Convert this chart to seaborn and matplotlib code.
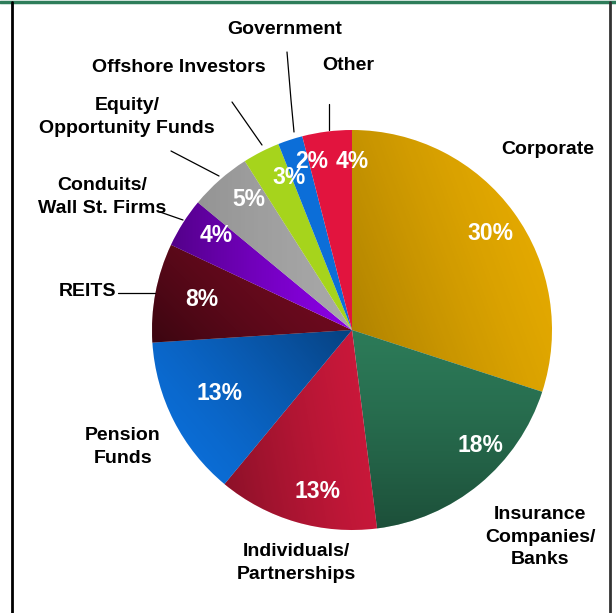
import matplotlib
matplotlib.use("Agg")
import matplotlib.pyplot as plt
import seaborn as sns
import numpy as np

sns.set_theme(style="white")
plt.rcParams["font.family"] = ["Liberation Sans", "DejaVu Sans"]

# Investor mix, clockwise from 12 o'clock
categories = ["Corporate", "Insurance\nCompanies/\nBanks", "Individuals/\nPartnerships",
              "Pension\nFunds", "REITS", "Conduits/\nWall St. Firms",
              "Equity/\nOpportunity Funds", "Offshore Investors", "Government", "Other"]
shares = [30, 18, 13, 13, 8, 4, 5, 3, 2, 4]
colors = ["#E2A800", "#2C7A58", "#C8183A", "#0B6CD4", "#6C0A1E",
          "#8A00E4", "#A8A8A8", "#A6D41C", "#0C6ED8", "#E2143E"]

# shading per slice: direction (degrees, screen frame) toward the dark side, and depth
shade_dir = [200, 270, 190, 40, 225, 180, 180, 0, 0, 0]
shade_amt = [0.22, 0.35, 0.30, 0.40, 0.45, 0.40, 0.12, 0.0, 0.0, 0.0]

W, H = 616, 613
fig = plt.figure(figsize=(W / 100, H / 100), dpi=100)
ax = fig.add_axes([0, 0, 1, 1])

def py(y):
    # pixel row (from top) to axis y
    return H - y

center = (352, py(330))
radius = 200

wedges, _ = ax.pie(shares, colors=colors, startangle=90, counterclock=False,
                   center=center, radius=radius, frame=True,
                   wedgeprops=dict(linewidth=0))

# soft directional shading clipped to each slice
gx, gy = np.meshgrid(np.arange(W) + 0.5, np.arange(H) + 0.5)
for w, ang, amt in zip(wedges, shade_dir, shade_amt):
    if amt <= 0:
        continue
    d = np.array([np.cos(np.radians(ang)), np.sin(np.radians(ang))])
    verts = w.get_path().vertices
    proj_v = verts @ d
    lo, hi = proj_v.min(), proj_v.max()
    t = np.clip((gx * d[0] + gy * d[1] - lo) / (hi - lo), 0, 1)
    rgba = np.zeros((H, W, 4))
    rgba[..., 3] = amt * t ** 1.3
    im = ax.imshow(rgba, extent=(0, W, 0, H), origin="lower", zorder=1.5,
                   interpolation="bilinear")
    im.set_clip_path(w)

ax.set_xlim(0, W)
ax.set_ylim(0, H)
ax.set_aspect("equal")
ax.axis("off")

# percentage labels inside the slices
pct_pos = [(490, 233), (480, 446), (318, 492), (220, 393), (202, 300),
           (216, 236), (249, 199), (289, 178), (312, 161), (352, 161)]
for v, (x, y) in zip(shares, pct_pos):
    ax.text(x, py(y), f"{v}%", color="white", fontsize=16.5, fontweight="bold",
            ha="center", va="center", zorder=4)

# category labels around the pie
label_pos = [(548, 150), (540, 537), (296, 563), (123, 447), (87, 291),
             (102, 197), (127, 117), (179, 67), (285, 30), (348, 66)]
for name, (x, y) in zip(categories, label_pos):
    ax.text(x, py(y), name, color="black", fontsize=14, fontweight="bold",
            ha="center", va="center", linespacing=1.4, zorder=4)

# leader lines for the crowded small slices
leaders = [
    [(287, 52), (291, 100), (294, 132)],
    [(329, 104), (329, 130)],
    [(232, 102), (262, 145)],
    [(171, 151), (219, 176)],
    [(160, 212), (183, 220)],
    [(118, 293), (155, 293)],
]
for pts in leaders:
    xs = [p[0] for p in pts]
    ys = [py(p[1]) for p in pts]
    ax.plot(xs, ys, color="black", lw=0.9, zorder=3)

# frame
ax.plot([0, W], [py(1.5), py(1.5)], color="#2E7D5A", lw=2.5)
ax.plot([11.5, 11.5], [0, py(2)], color="black", lw=2)
ax.plot([609.5, 609.5], [0, py(2)], color="#333333", lw=2)

fig.savefig("out.png", dpi=100)
